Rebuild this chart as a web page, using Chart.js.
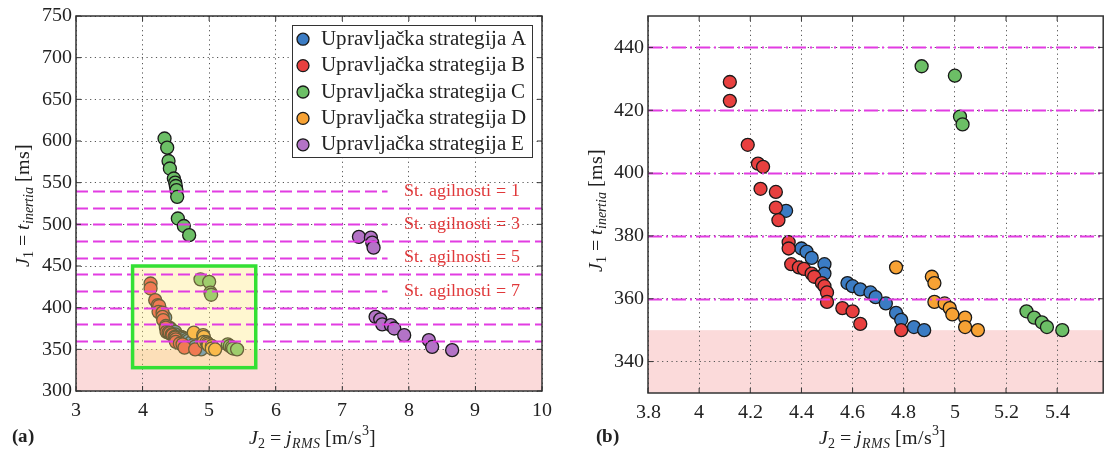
<!DOCTYPE html>
<html lang="hr">
<head>
<meta charset="UTF-8">
<title>Upravljačke strategije - J1 / J2</title>
<script src="https://cdn.jsdelivr.net/npm/chart.js"></script>
<style>
  @font-face { font-family: 'Serifa'; src: local('Liberation Serif'), local('LiberationSerif'); font-style: normal; font-weight: 400; }
  @font-face { font-family: 'Serifa'; src: local('Liberation Serif Italic'), local('LiberationSerif-Italic'); font-style: italic; font-weight: 400; }
  @font-face { font-family: 'Serifa'; src: local('Liberation Serif Bold'), local('LiberationSerif-Bold'); font-style: normal; font-weight: 700; }
  body { margin: 0; background: #fff; width: 1111px; height: 453px; overflow: hidden; }
  canvas { position: absolute; top: 0; }
  #lijevo { left: 0; }
  #desno { left: 560px; }
  .ucitaj { position: absolute; left: 0; top: 0; color: transparent; font-size: 20px; }
</style>
</head>
<body>
<span class="ucitaj" style="font-family:'Liberation Serif'">Aa <i>Aa</i> <b>Aa</b></span>
<span class="ucitaj" style="font-family:Serifa">Aa <i>Aa</i> <b>Aa</b></span>
<canvas id="lijevo" width="560" height="453"></canvas>
<canvas id="desno" width="551" height="453"></canvas>
<script>
// [J2 (m/s^3), J1 (ms)] ocitano sa slike
const stratA = [[4.34,388],[4.40,376],[4.42,375],[4.44,373],[4.49,371],[4.49,368],[4.58,365],[4.60,364],
  [4.63,363],[4.67,362],[4.69,360.5],[4.73,358.5],[4.77,355.5],[4.79,353.3],[4.84,351],[4.88,350]];
const stratB = [[4.12,429],[4.12,423],[4.19,409],[4.23,403],[4.25,402],[4.24,395],[4.30,394],[4.30,389],
  [4.31,385],[4.35,378],[4.35,376],[4.36,371],[4.39,370],[4.41,369.5],[4.44,368],[4.45,367],[4.48,365],
  [4.49,364],[4.50,362],[4.50,359],[4.56,357],[4.60,356],[4.63,352],[4.79,350]];
const stratC = [[4.33,603],[4.37,592],[4.39,576],[4.41,567],[4.47,555],[4.49,550],[4.50,546],[4.51,541],
  [4.52,533],[4.53,507],[4.62,498],[4.70,487],[4.87,434],[5.00,431],[5.02,418],[5.03,415.5],
  [5.28,356],[5.31,354],[5.34,352.5],[5.36,351],[5.42,350]];
const stratD = [[4.77,370],[4.91,367],[4.92,365],[4.92,359],[4.96,358.5],[4.98,357],[4.99,355],
  [5.04,354],[5.04,351],[5.09,350]];
const stratE = [[7.25,485],[7.43,484],[7.45,478],[7.47,472],[7.50,389],[7.57,386],[7.60,380],[7.73,379],
  [7.78,375],[7.93,367],[8.30,361],[8.35,353],[8.65,349]];

const serije = [stratA, stratB, stratC, stratD, stratE];
const nazivi = ['Upravljačka strategija A', 'Upravljačka strategija B', 'Upravljačka strategija C',
  'Upravljačka strategija D', 'Upravljačka strategija E'];
const boje = ['#3b7cc4', '#e8403f', '#6cbf66', '#f7a234', '#b373c6'];

const xTickA = [3, 4, 5, 6, 7, 8, 9, 10];
const yTickA = [300, 350, 400, 450, 500, 550, 600, 650, 700, 750];
const xTickB = [3.8, 4, 4.2, 4.4, 4.6, 4.8, 5, 5.2, 5.4];
const yTickB = [340, 360, 380, 400, 420, 440];

const razineA = [360, 380, 400, 420, 440, 460, 480, 500, 520, 540];
const razineB = [360, 380, 400, 420, 440];
const agilnostRazine = [540, 500, 460, 420];
const agilnostOznake = ['St. agilnosti = 1', 'St. agilnosti = 3', 'St. agilnosti = 5', 'St. agilnosti = 7'];
const prag = 350;

const SERIF = 'Serifa, "Liberation Serif", "Times New Roman", serif';

function bogatiTekst(ctx, dijelovi, x, y, vel, kut) {
  ctx.save();
  ctx.translate(x, y);
  if (kut) ctx.rotate(kut);
  const fontZa = d => `${d.b ? 'bold ' : ''}${d.i ? 'italic ' : ''}${(d.sub || d.sup) ? Math.round(vel * 0.68) : vel}px ${SERIF}`;
  let w = 0;
  dijelovi.forEach(d => { ctx.font = fontZa(d); w += ctx.measureText(d.t).width; });
  let px = -w / 2;
  ctx.textBaseline = 'alphabetic';
  ctx.fillStyle = '#222';
  dijelovi.forEach(d => {
    ctx.font = fontZa(d);
    const dy = d.sub ? vel * 0.22 : d.sup ? -vel * 0.42 : 0;
    ctx.fillText(d.t, px, vel * 0.33 + dy);
    px += ctx.measureText(d.t).width;
  });
  ctx.restore();
}

const naslovX = [{t: 'J', i: true}, {t: '2', sub: true}, {t: ' = '}, {t: 'j', i: true}, {t: 'RMS', i: true, sub: true}, {t: ' [m/s'}, {t: '3', sup: true}, {t: ']'}];
const naslovY = [{t: 'J', i: true}, {t: '1', sub: true}, {t: ' = '}, {t: 't', i: true}, {t: 'inertia', i: true, sub: true}, {t: ' [ms]'}];

function ukrasi(o) {
  return {
    id: 'ukrasi',
    beforeDraw(chart) {
      const {ctx, chartArea: a, scales: {y}} = chart;
      const yp = y.getPixelForValue(prag);
      ctx.save();
      ctx.fillStyle = 'rgb(251,218,218)';
      ctx.fillRect(a.left, yp, a.right - a.left, a.bottom - yp);
      ctx.restore();
    },
    afterDatasetsDraw(chart) {
      const {ctx, chartArea: a, scales: {x, y}} = chart;
      ctx.save();
      ctx.beginPath();
      ctx.rect(a.left, a.top, a.right - a.left, a.bottom - a.top);
      ctx.clip();

      if (o.okvir) {
        const x1 = x.getPixelForValue(o.okvir.x[0]), x2 = x.getPixelForValue(o.okvir.x[1]);
        const y1 = y.getPixelForValue(o.okvir.y[1]), y2 = y.getPixelForValue(o.okvir.y[0]);
        ctx.fillStyle = 'rgba(255,232,120,0.35)';
        ctx.fillRect(x1, y1, x2 - x1, y2 - y1);
      }

      // granice agilnosti
      ctx.strokeStyle = 'rgb(226,60,226)';
      ctx.lineWidth = 2;
      ctx.setLineDash(o.crtice);
      o.razine.forEach(v => {
        const yp = Math.round(y.getPixelForValue(v)) + 0.5;
        const prekid = o.oznake && agilnostRazine.includes(v);
        ctx.beginPath();
        ctx.moveTo(a.left, yp);
        ctx.lineTo(prekid ? x.getPixelForValue(o.prekidX) : a.right, yp);
        ctx.stroke();
      });
      ctx.setLineDash([]);

      if (o.oznake) {
        ctx.fillStyle = '#e0383a';
        ctx.font = `18px ${SERIF}`;
        ctx.textBaseline = 'middle';
        agilnostRazine.forEach((v, i) => {
          ctx.fillText(agilnostOznake[i], x.getPixelForValue(o.oznakaX), y.getPixelForValue(v));
        });
      }

      if (o.okvir) {
        const x1 = x.getPixelForValue(o.okvir.x[0]), x2 = x.getPixelForValue(o.okvir.x[1]);
        const y1 = y.getPixelForValue(o.okvir.y[1]), y2 = y.getPixelForValue(o.okvir.y[0]);
        ctx.strokeStyle = '#33e033';
        ctx.lineWidth = 3.5;
        ctx.strokeRect(x1, y1, x2 - x1, y2 - y1);
      }
      ctx.restore();

      // okvir osi i unutarnje crtice
      ctx.save();
      ctx.strokeStyle = '#333';
      ctx.lineWidth = 1.5;
      ctx.strokeRect(a.left, a.top, a.right - a.left, a.bottom - a.top);
      ctx.lineWidth = 1;
      ctx.beginPath();
      x.ticks.forEach(t => {
        const xp = x.getPixelForValue(t.value);
        ctx.moveTo(xp, a.bottom); ctx.lineTo(xp, a.bottom - 5);
        ctx.moveTo(xp, a.top); ctx.lineTo(xp, a.top + 5);
      });
      y.ticks.forEach(t => {
        const yp = y.getPixelForValue(t.value);
        ctx.moveTo(a.left, yp); ctx.lineTo(a.left + 5, yp);
        ctx.moveTo(a.right, yp); ctx.lineTo(a.right - 5, yp);
      });
      ctx.stroke();
      ctx.restore();

      if (o.legenda) {
        const lx = a.right - 250, ly = a.top + 9, lw = 240, rh = 26.4;
        ctx.save();
        ctx.fillStyle = '#fff';
        ctx.fillRect(lx, ly, lw, rh * 5);
        ctx.strokeStyle = '#333';
        ctx.lineWidth = 1;
        ctx.strokeRect(lx + 0.5, ly + 0.5, lw, rh * 5);
        ctx.font = `21px ${SERIF}`;
        ctx.textBaseline = 'middle';
        nazivi.forEach((n, i) => {
          const cy = ly + rh * (i + 0.5) + 1;
          ctx.beginPath();
          ctx.arc(lx + 11, cy, 6, 0, Math.PI * 2);
          ctx.fillStyle = boje[i];
          ctx.fill();
          ctx.strokeStyle = '#1a1a1a';
          ctx.lineWidth = 1.3;
          ctx.stroke();
          ctx.fillStyle = '#222';
          ctx.fillText(n, lx + 29, cy);
        });
        ctx.restore();
      }
    },
    afterDraw(chart) {
      const ctx = chart.ctx;
      bogatiTekst(ctx, naslovY, o.naslovY[0], o.naslovY[1], 20, -Math.PI / 2);
      bogatiTekst(ctx, naslovX, o.naslovX[0], o.naslovX[1], 20, 0);
      ctx.save();
      ctx.font = `bold 19px ${SERIF}`;
      ctx.fillStyle = '#222';
      ctx.textBaseline = 'middle';
      ctx.fillText(o.slovo, o.slovoX, 437);
      ctx.restore();
    }
  };
}

function napraviGraf(id, o) {
  const tickFont = {family: SERIF, size: 20};
  return new Chart(document.getElementById(id), {
    type: 'scatter',
    data: {
      datasets: serije.map((s, i) => ({
        label: nazivi[i],
        data: s.map(([x, y]) => ({x, y})),
        backgroundColor: boje[i],
        borderColor: '#1a1a1a',
        borderWidth: 1.3,
        pointRadius: 6.5,
        pointHoverRadius: 6.5,
        order: serije.length - i
      }))
    },
    options: {
      responsive: false,
      animation: false,
      events: [],
      layout: {padding: o.padding},
      plugins: {legend: {display: false}, tooltip: {enabled: false}},
      scales: {
        x: {
          type: 'linear', min: o.xMin, max: o.xMax,
          afterBuildTicks: s => { s.ticks = o.xTicks.map(v => ({value: v})); },
          afterFit: s => { s.height = o.xH; },
          grid: {color: '#555', lineWidth: 1, drawTicks: false},
          border: {display: false, dash: [1.2, 3.5]},
          ticks: {font: tickFont, color: '#222', padding: 8, autoSkip: false, maxRotation: 0,
            callback: v => String(v)}
        },
        y: {
          type: 'linear', min: o.yMin, max: o.yMax,
          afterBuildTicks: s => { s.ticks = o.yTicks.map(v => ({value: v})); },
          afterFit: s => { s.width = o.yW; },
          grid: {color: '#555', lineWidth: 1, drawTicks: false},
          border: {display: false, dash: [1.2, 3.5]},
          ticks: {font: tickFont, color: '#222', padding: 4, autoSkip: false,
            callback: v => String(v)}
        }
      }
    },
    plugins: [ukrasi(o)]
  });
}

function nacrtajSve() {
  napraviGraf('lijevo', {
    xMin: 3, xMax: 10, yMin: 300, yMax: 750, xTicks: xTickA, yTicks: yTickA,
    padding: {top: 16, right: 17, left: 0, bottom: 0}, yW: 76, xH: 62,
    razine: razineA, crtice: [12, 5], oznake: true, prekidX: 7.68, oznakaX: 7.93,
    okvir: {x: [3.85, 5.7], y: [328, 450]}, legenda: true,
    naslovY: [22, 205], naslovX: [312, 437], slovo: '(a)', slovoX: 12
  });
  napraviGraf('desno', {
    xMin: 3.8, xMax: 5.58, yMin: 330, yMax: 450, xTicks: xTickB, yTicks: yTickB,
    padding: {top: 16, right: 0, left: 0, bottom: 0}, yW: 88, xH: 60,
    razine: razineB, crtice: [14, 4, 2, 4], oznake: false,
    naslovY: [35, 210], naslovX: [322, 437], slovo: '(b)', slovoX: 36
  });
}

Promise.all([
  document.fonts.load('20px Serifa'),
  document.fonts.load('italic 20px Serifa'),
  document.fonts.load('bold 19px Serifa'),
  document.fonts.load('20px "Liberation Serif"'),
  document.fonts.load('italic 20px "Liberation Serif"')
]).then(() => document.fonts.ready).then(nacrtajSve, nacrtajSve);
</script>
</body>
</html>
